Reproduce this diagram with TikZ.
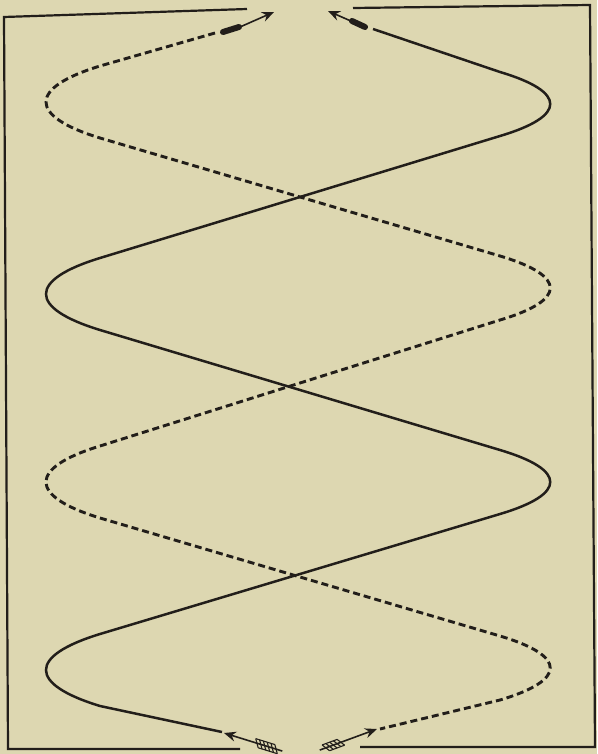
\documentclass[tikz,border=0pt]{standalone}
\usetikzlibrary{arrows.meta}
\definecolor{paper}{RGB}{221,215,177}
\definecolor{ink}{RGB}{34,30,26}
\begin{document}
\begin{tikzpicture}[x=1pt,y=-1pt,
    rope/.style={ink,line width=2.5pt},
    dashrope/.style={ink,line width=2.9pt,dash pattern=on 7pt off 4pt},
    frame/.style={ink,line width=2.2pt},
    shaft/.style={ink,line width=1.6pt,-{Stealth[length=12pt,width=10pt,inset=4pt]}},
    blob/.style={ink,line width=6pt,line cap=round},
    feather/.style={ink,line width=1.1pt}]
  \fill[paper] (0,0) rectangle (597,754);
  \useasboundingbox (0,0) rectangle (597,754);
  % frame, open at top and bottom
  \draw[frame] (247,9) -- (4,17) -- (8,749) -- (240,749);
  \draw[frame] (353,8) -- (590,5) -- (595,747) -- (360,747);
  % solid rope
  \draw[rope] (373,29) -- (500,72)
    .. controls (567,92) and (567,116) .. (500,136)
    -- (100,258)
    .. controls (28,280) and (28,308) .. (100,330)
    -- (500,450)
    .. controls (567,470) and (567,494) .. (500,514)
    -- (100,634)
    .. controls (28,656) and (28,684) .. (100,706)
    -- (222,732);
  % dashed rope
  \draw[dashrope] (215,33) -- (100,66)
    .. controls (28,88) and (28,116) .. (100,138)
    -- (500,256)
    .. controls (567,276) and (567,300) .. (500,320)
    -- (100,446)
    .. controls (28,468) and (28,496) .. (100,518)
    -- (500,636)
    .. controls (567,656) and (567,680) .. (500,700)
    -- (380,729);
  % arrows at the top
  \coordinate (tipR) at (328,11);
  \coordinate (tipL) at (274,12);
  \draw[shaft] (360,25) -- (tipR);
  \draw[blob] (352,21) -- (365,27);
  \draw[shaft] (240,27) -- (tipL);
  \draw[blob] (223,32) -- (239,27);
  % arrows at the bottom
  \begin{scope}[shift={(224,733)},rotate=-17.2]
    \draw[shaft] (61,0) -- (0,0);
    \foreach \s in {32,36,...,52} \draw[feather] (\s,-4) -- (\s+5,4);
    \draw[feather] (32,-4) -- (52,-4) (37,4) -- (57,4);
  \end{scope}
  \begin{scope}[shift={(377,729)},rotate=200.2]
    \draw[shaft] (61,0) -- (0,0);
    \foreach \s in {36,40,...,52} \draw[feather] (\s,-4) -- (\s+5,4);
    \draw[feather] (36,-4) -- (52,-4) (41,4) -- (57,4);
  \end{scope}
\end{tikzpicture}
\end{document}
